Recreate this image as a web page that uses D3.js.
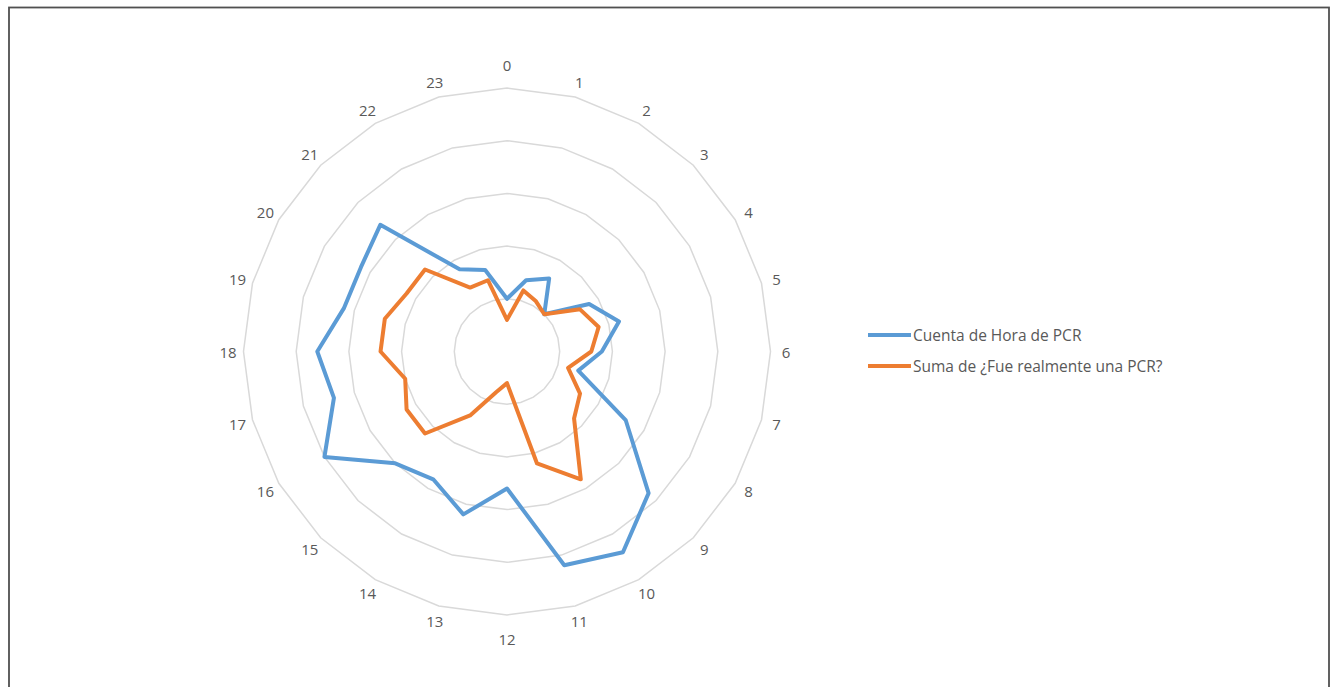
<!DOCTYPE html>
<html>
<head>
<meta charset="utf-8">
<script src="https://cdn.jsdelivr.net/npm/d3@7"></script>
<style>
  html, body { margin: 0; padding: 0; background: #ffffff; }
  svg { display: block; }
  text { font-family: "Open Sans", "Liberation Sans", sans-serif; fill: #595959; }
</style>
</head>
<body>
<svg id="chart" width="1331" height="687"></svg>
<script>
// Hours of the day (radar axes)
const hours = ["0","1","2","3","4","5","6","7","8","9","10","11",
               "12","13","14","15","16","17","18","19","20","21","22","23"];

// Series values per hour
const cuentaHora = [10, 14, 16, 10, 18, 22, 18, 14, 26, 38, 44, 42,
                    26, 32, 28, 30, 40, 34, 36, 32, 32, 34, 18, 16];
const sumaPCR    = [6, 12, 11, 10, 16, 18, 16, 12, 16, 18, 28, 22,
                    6, 8, 14, 22, 22, 20, 24, 24, 22, 22, 14, 14];

// Radial gridline values
const gridTicks = [10, 20, 30, 40, 50];

const seriesNames = ["Cuenta de Hora de PCR", "Suma de ¿Fue realmente una PCR?"];
const seriesColors = ["#5B9BD5", "#ED7D31"];

const svg = d3.select("#chart");

// Chart-area frame
svg.append("rect")
  .attr("x", 9).attr("y", 7.5)
  .attr("width", 1320).attr("height", 690)
  .attr("fill", "none")
  .attr("stroke", "#505050")
  .attr("stroke-width", 1.8);

const cx = 507, cy = 351.5, outerR = 263.5;

const r = d3.scaleLinear().domain([0, 50]).range([0, outerR]);
const angle = d3.scalePoint().domain(hours).range([0, 2 * Math.PI * (hours.length - 1) / hours.length]);

const g = svg.append("g").attr("transform", `translate(${cx},${cy})`);

// Concentric polygon gridlines
const gridLine = d3.lineRadial()
  .angle(h => angle(h))
  .curve(d3.curveLinearClosed);

g.append("g").selectAll("path")
  .data(gridTicks)
  .join("path")
  .attr("d", t => gridLine.radius(() => r(t))(hours))
  .attr("fill", "none")
  .attr("stroke", "#d9d9d9")
  .attr("stroke-width", 1.5);

// Hour labels around the outside
g.append("g").selectAll("text")
  .data(hours)
  .join("text")
  .each(function (h) {
    const a = angle(h);
    const vertical = Math.abs(Math.cos(a)) > 0.99;
    const [x, y] = d3.pointRadial(a, vertical ? 287 : 279);
    d3.select(this)
      .attr("x", x)
      .attr("y", y)
      .attr("text-anchor", "middle")
      .attr("dominant-baseline", "central")
      .attr("font-size", 15)
      .text(h);
  });

// Series outlines
const series = [cuentaHora, sumaPCR];
const seriesLine = d3.lineRadial()
  .angle((d, i) => angle(hours[i]))
  .radius(d => r(d))
  .curve(d3.curveLinearClosed);

g.append("g").selectAll("path")
  .data(series)
  .join("path")
  .attr("d", d => seriesLine(d))
  .attr("fill", "none")
  .attr("stroke", (d, i) => seriesColors[i])
  .attr("stroke-width", 4)
  .attr("stroke-linejoin", "round");

// Legend
const legend = svg.append("g").attr("transform", "translate(868,335)");
const items = legend.selectAll("g")
  .data(seriesNames)
  .join("g")
  .attr("transform", (d, i) => `translate(0,${i * 31})`);

items.append("line")
  .attr("x1", 0).attr("x2", 43)
  .attr("y1", 0).attr("y2", 0)
  .attr("stroke", (d, i) => seriesColors[i])
  .attr("stroke-width", 4);

items.append("text")
  .attr("x", 45)
  .attr("y", 0)
  .attr("dominant-baseline", "central")
  .attr("font-size", 15.5)
  .text(d => d);
</script>
</body>
</html>
